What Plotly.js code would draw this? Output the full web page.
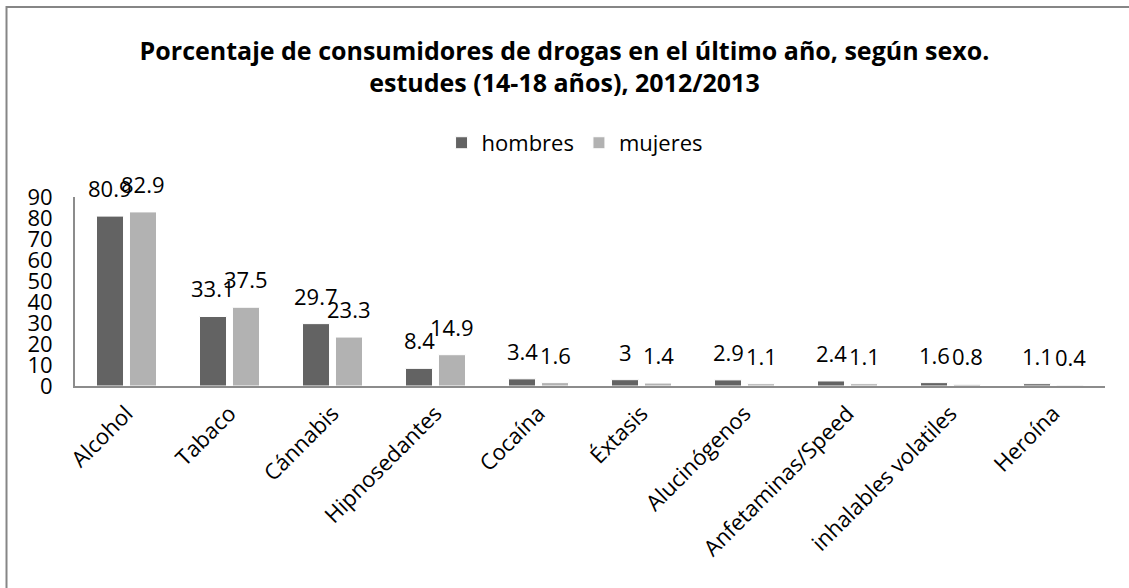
<!DOCTYPE html>
<html>
<head>
<meta charset="utf-8">
<script src="https://cdn.plot.ly/plotly-3.0.1.min.js"></script>
<style>html,body{margin:0;padding:0;background:#fff;}#chart{width:1129px;height:588px;}</style>
</head>
<body>
<div id="chart"></div>
<script>
const categories = ["Alcohol","Tabaco","Cánnabis","Hipnosedantes","Cocaína","Éxtasis","Alucinógenos","Anfetaminas/Speed","inhalables volatiles","Heroína"];
const hombres = [80.9, 33.1, 29.7, 8.4, 3.4, 3, 2.9, 2.4, 1.6, 1.1];
const mujeres = [82.9, 37.5, 23.3, 14.9, 1.6, 1.4, 1.1, 1.1, 0.8, 0.4];
const yTicks = [0,10,20,30,40,50,60,70,80,90];

const FONT = "'Open Sans', sans-serif";
const mk = (name, vals, color) => ({
  type: 'bar', name: name, x: categories, y: vals,
  marker: {color: color, line: {color: '#ffffff', width: 1}},
  hoverinfo: 'x+y'
});
const data = [mk('hombres', hombres, '#636363'), mk('mujeres', mujeres, '#b2b2b2')];

const labelAnn = (vals, shift) => vals.map((v, i) => ({
  x: categories[i], y: v, xref: 'x', yref: 'y', text: String(v), showarrow: false,
  xanchor: 'center', yanchor: 'bottom', xshift: shift, yshift: 11,
  font: {family: FONT, size: 22, color: '#000'}
}));

const layout = {
  width: 1129, height: 588,
  margin: {l: 75, r: 24, t: 197, b: 202},
  paper_bgcolor: '#fff', plot_bgcolor: '#fff',
  font: {family: FONT, color: '#000'},
  title: {text: '<b>Porcentaje de consumidores de drogas en el último año, según sexo.<br>estudes (14-18 años), 2012/2013</b>',
          font: {family: FONT, size: 25, color: '#000'}, x: 0.5, xanchor: 'center', y: 0.898, yanchor: 'middle'},
  barmode: 'group', bargap: 0.36, bargroupgap: 0.18,
  showlegend: true,
  legend: {orientation: 'h', x: 0.485, xanchor: 'center', y: 1.286, yanchor: 'middle',
           font: {family: FONT, size: 22, color: '#000'}, traceorder: 'normal', itemwidth: 30},
  xaxis: {type: 'category', tickangle: -45, tickfont: {family: FONT, size: 22, color: '#000'},
          ticklabelstandoff: 4,
          showline: true, linecolor: '#8c8c8c', linewidth: 2, ticks: '', showgrid: false, zeroline: false},
  yaxis: {range: [0, 90], tickvals: yTicks, ticktext: yTicks.map(String),
          tickfont: {family: FONT, size: 22, color: '#000'}, ticks: '', ticklabelstandoff: 16,
          showline: true, linecolor: '#8c8c8c', linewidth: 2, showgrid: false, zeroline: false},
  annotations: labelAnn(hombres, -16.5).concat(labelAnn(mujeres, 16.5)),
  shapes: [{type: 'rect', xref: 'paper', yref: 'paper', x0: -0.0665, x1: 1.03, y0: -1.11, y1: 2.005,
            line: {color: '#868686', width: 2}, fillcolor: 'rgba(0,0,0,0)', layer: 'below'}]
};
Plotly.newPlot('chart', data, layout, {displayModeBar: false, staticPlot: true});
</script>
</body>
</html>
